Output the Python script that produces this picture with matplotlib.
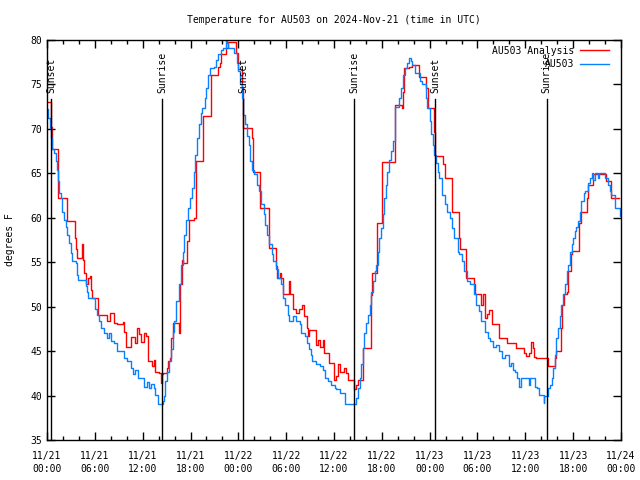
import matplotlib
matplotlib.use("Agg")
import matplotlib.pyplot as plt
from matplotlib.ticker import MultipleLocator

plt.rcParams['font.family'] = ['DejaVu Sans Mono']

# hours since 11/21 00:00 UTC, degrees F
analysis_t = [0.0, 0.54, 0.65, 1.42, 2.47, 3.51, 3.68, 3.8, 4.43, 4.52, 4.64, 4.85, 5.2, 5.35,
              5.48, 5.69, 6.44, 7.57, 7.86, 8.4, 8.8, 9.5, 9.66, 9.87, 10.5, 11.0, 11.33, 11.5,
              11.8, 12.2, 12.46, 12.67, 13.2, 13.4, 13.6, 14.05, 14.3, 14.45, 14.6, 15.0, 15.2,
              15.4, 15.6, 15.85, 16.5, 16.7, 16.9, 17.1, 17.6, 17.8, 18.4, 18.65, 19.6, 20.6,
              21.4, 21.7, 21.8, 22.5, 22.7, 23.7, 23.9, 24.5, 24.62, 25.7, 25.8, 26.7, 27.8,
              28.7, 28.9, 29.2, 29.4, 29.6, 30.3, 30.45, 30.8, 31.2, 31.6, 32.0, 32.2, 32.6,
              32.8, 32.9, 33.7, 34.0, 34.2, 34.6, 34.8, 35.4, 35.97, 36.2, 36.5, 36.7, 37.3,
              37.5, 37.7, 38.5, 38.8, 39.0, 39.7, 40.7, 40.8, 41.4, 42.0, 43.7, 44.5, 44.6,
              44.8, 45.4, 45.8, 46.6, 47.6, 47.8, 48.6, 48.7, 49.7, 49.9, 50.75, 50.85, 51.7,
              51.8, 52.6, 53.5, 53.7, 54.5, 54.7, 54.9, 55.2, 55.4, 55.8, 56.7, 57.7, 58.8,
              59.8, 60.1, 60.5, 60.7, 60.9, 61.1, 61.4, 62.5, 62.8, 63.7, 63.9, 64.5, 64.6,
              64.8, 65.2, 65.4, 65.7, 65.9, 66.7, 66.97, 67.7, 67.8, 68.5, 70.1, 70.8, 71.7]
analysis_v = [73.0, 70.2, 67.7, 62.2, 59.6, 57.7, 56.5, 55.5, 57.0, 55.3, 53.8, 52.5, 53.2, 53.4,
              51.9, 51.0, 49.1, 48.4, 49.3, 48.2, 48.0, 48.3, 47.2, 45.5, 46.6, 45.9, 47.6, 46.9,
              46.0, 47.0, 46.7, 43.9, 43.3, 44.0, 42.7, 42.5, 41.4, 42.4, 42.5, 43.1, 43.9,
              44.2, 46.5, 48.2, 47.0, 52.5, 55.3, 54.9, 57.4, 59.7, 60.0, 66.4, 71.5, 76.1,
              77.0, 77.4, 78.4, 79.1, 79.8, 78.5, 76.7, 74.6, 70.1, 69.0, 65.2, 61.1, 56.6,
              54.6, 53.2, 53.8, 53.2, 51.4, 52.9, 51.4, 49.7, 49.3, 49.7, 50.2, 48.9, 47.6,
              46.7, 47.4, 45.7, 46.3, 45.5, 46.3, 44.8, 43.7, 41.8, 42.2, 43.5, 42.7, 43.1,
              42.5, 41.8, 40.7, 41.2, 41.8, 45.4, 51.3, 53.8, 59.4, 66.3, 72.7, 72.3, 74.2,
              76.9, 77.0, 77.2, 75.8, 74.6, 72.4, 69.7, 66.9, 66.0, 64.5, 62.8, 60.7, 57.7,
              56.5, 53.2, 52.5, 51.4, 50.2, 51.4, 48.7, 49.2, 49.6, 48.0, 46.5, 45.9, 45.3,
              44.8, 44.4, 44.8, 46.0, 45.3, 44.3, 44.2, 44.2, 43.3, 44.2, 45.0, 47.6, 50.2,
              51.4, 51.7, 54.0, 55.9, 56.3, 59.4, 60.7, 62.2, 63.7, 64.9, 64.1, 62.2, 62.2]

obs_t = [0.0, 0.13, 0.38, 0.54, 0.67, 0.88, 1.09, 1.21, 1.38, 1.5, 1.71, 1.92, 2.13, 2.34, 2.55,
         2.76, 2.97, 3.18, 3.6, 3.8, 3.93, 4.85, 5.06, 5.19, 5.98, 6.3, 6.52, 6.82, 7.15, 7.57,
         7.75, 7.99, 8.4, 8.74, 9.66, 10.08, 10.5, 10.83, 11.1, 11.46, 12.2, 12.6, 12.8, 13.1,
         13.4, 13.6, 13.9, 14.5, 14.7, 14.8, 15.1, 15.35, 15.56, 15.77, 15.9, 16.2, 16.5,
         16.8, 17.0, 17.2, 17.4, 17.7, 17.9, 18.15, 18.4, 18.6, 18.8, 19.1, 19.3, 19.5, 19.8,
         20.0, 20.24, 20.5, 20.9, 21.2, 21.5, 21.8, 22.1, 22.4, 22.6, 22.75, 23.5, 23.8, 24.0,
         24.2, 24.4, 24.6, 24.8, 25.05, 25.3, 25.5, 25.7, 26.0, 26.3, 26.6, 26.9, 27.2, 27.4,
         27.6, 27.9, 28.2, 28.4, 28.7, 29.0, 29.3, 29.6, 29.9, 30.2, 30.4, 30.8, 31.2, 31.7,
         31.9, 32.3, 32.6, 32.9, 33.1, 33.3, 33.8, 34.2, 34.6, 34.9, 35.2, 35.6, 36.1, 36.3,
         36.7, 37.4, 38.8, 39.0, 39.2, 39.4, 39.6, 39.8, 40.0, 40.3, 40.5, 40.7, 40.9, 41.1,
         41.3, 41.5, 41.7, 41.9, 42.1, 42.3, 42.5, 42.7, 42.96, 43.2, 43.4, 43.6, 43.7, 44.2,
         44.4, 44.6, 44.9, 45.2, 45.4, 45.6, 45.8, 46.2, 46.85, 47.1, 47.5, 47.7, 48.0, 48.2,
         48.4, 48.6, 48.8, 49.1, 49.2, 49.6, 49.9, 50.2, 50.5, 50.8, 51.1, 51.5, 51.7, 52.1,
         52.3, 52.7, 53.1, 53.5, 53.8, 54.2, 54.5, 54.9, 55.3, 55.6, 56.0, 56.3, 56.7, 57.1,
         57.5, 57.9, 58.2, 58.5, 58.7, 59.0, 59.2, 59.4, 60.4, 60.6, 61.2, 61.5, 61.7, 62.3,
         62.4, 62.9, 63.1, 63.3, 63.5, 63.7, 63.9, 64.1, 64.3, 64.5, 64.75, 64.96, 65.2, 65.4,
         65.6, 65.8, 66.0, 66.2, 66.4, 66.6, 66.8, 67.0, 67.3, 67.5, 67.8, 68.1, 68.3, 68.5,
         68.8, 69.1, 69.3, 70.0, 70.4, 70.6, 70.8, 71.2, 71.9, 72.0]
obs_v = [72.2, 71.2, 70.1, 69.0, 67.7, 67.3, 66.4, 65.4, 64.1, 62.8, 62.2, 60.7, 59.8, 59.0, 58.1,
         57.2, 56.0, 55.1, 54.9, 53.6, 53.0, 52.3, 51.7, 51.0, 49.7, 49.1, 48.4, 47.6, 47.0, 46.5,
         47.0, 46.1, 45.9, 45.0, 44.2, 43.9, 43.1, 42.4, 42.9, 42.0, 41.0, 41.5, 40.9, 41.3,
         40.9, 40.1, 39.0, 39.4, 40.0, 41.6, 42.7, 43.9, 45.2, 47.2, 48.4, 50.6, 52.5,
         54.7, 56.2, 58.1, 59.7, 61.1, 62.2, 63.4, 65.2, 67.1, 69.0, 70.5, 71.8, 72.4, 73.5,
         74.6, 76.1, 76.9, 77.0, 77.8, 78.4, 78.9, 79.1, 80.0, 79.7, 79.1, 78.5, 77.4, 76.5,
         75.0, 73.5, 71.6, 70.5, 69.2, 68.2, 66.4, 65.4, 64.9, 63.7, 63.0, 61.5, 60.4, 59.2,
         58.1, 57.0, 55.9, 55.1, 54.2, 53.2, 52.5, 51.0, 50.2, 49.1, 48.4, 48.9, 48.4, 48.0,
         47.0, 46.7, 45.9, 45.2, 44.6, 43.9, 43.5, 43.3, 42.9, 42.0, 41.6, 41.2, 40.9, 40.7,
         40.3, 39.0, 39.7, 40.9, 42.0, 43.5, 45.4, 47.0, 48.2, 49.1, 50.2, 51.7, 52.9, 54.0,
         54.7, 56.2, 57.7, 58.9, 60.4, 62.2, 63.7, 65.2, 66.5, 67.5, 68.6, 69.5, 72.5, 73.5,
         74.6, 76.1, 76.9, 77.4, 78.0, 77.6, 77.2, 76.3, 75.4, 75.0, 73.5, 72.4, 70.9, 69.4,
         68.2, 67.1, 66.2, 65.2, 64.5, 62.6, 61.5, 60.7, 60.0, 58.9, 57.7, 56.2, 55.9, 55.1,
         54.0, 52.9, 52.5, 51.4, 50.2, 49.5, 48.4, 47.2, 46.5, 46.1, 45.5, 45.7, 45.0, 44.2,
         44.6, 43.3, 43.7, 42.9, 42.7, 42.0, 41.0, 42.0, 41.2, 42.0, 41.0, 40.9, 40.1, 39.2,
         39.9, 40.9, 41.2, 42.0, 43.1, 44.6, 46.5, 47.6, 48.9, 50.2, 51.4, 52.5, 54.0, 54.7,
         56.2, 57.0, 57.7, 58.5, 59.0, 59.6, 60.7, 61.9, 62.8, 63.0, 63.9, 64.5, 65.0, 64.3,
         65.0, 64.5, 65.0, 64.5, 63.7, 63.0, 62.6, 61.1, 60.2, 60.2]

sun_t = [0.54, 14.47, 24.63, 38.56, 48.72, 62.69]
sun_labels = ["Sunset", "Sunrise", "Sunset", "Sunrise", "Sunset", "Sunrise"]

tick_hours = list(range(0, 73, 6))
tick_labels = ["11/21\n00:00", "11/21\n06:00", "11/21\n12:00", "11/21\n18:00",
               "11/22\n00:00", "11/22\n06:00", "11/22\n12:00", "11/22\n18:00",
               "11/23\n00:00", "11/23\n06:00", "11/23\n12:00", "11/23\n18:00",
               "11/24\n00:00"]

fig = plt.figure(figsize=(6.4, 4.8), dpi=100)
ax = fig.add_axes([47 / 640, 40 / 480, 574 / 640, 400 / 480])

ax.plot(analysis_t, analysis_v, color='#ff0000', lw=1.0, drawstyle='steps-post', label="AU503 Analysis")
ax.plot(obs_t, obs_v, color='#0a80ff', lw=1.0, drawstyle='steps-post', label="AU503")

# sunrise / sunset markers
for t, lab in zip(sun_t, sun_labels):
    ax.axvline(t, ymin=0, ymax=0.852, color='black', lw=1.0)
    ax.text(t, 74.0, lab, rotation=90, ha='center', va='bottom', fontsize=7)

ax.set_xlim(0, 72)
ax.set_ylim(35, 80)
ax.set_xticks(tick_hours)
ax.set_xticklabels(tick_labels, linespacing=1.4)
ax.xaxis.set_minor_locator(MultipleLocator(2))
ax.yaxis.set_major_locator(MultipleLocator(5))
ax.tick_params(which='both', direction='in', top=True, right=True, labelsize=7, width=1)
ax.tick_params(which='major', length=6)
ax.tick_params(which='minor', length=3)
ax.tick_params(axis='x', pad=8)
for s in ax.spines.values():
    s.set_linewidth(1.0)

ax.set_ylabel("degrees F", fontsize=7)
ax.yaxis.set_label_coords(-0.056, 0.5)
ax.set_title("Temperature for AU503 on 2024-Nov-21 (time in UTC)", fontsize=7, pad=12)
ax.legend(loc='upper right', bbox_to_anchor=(0.99, 1.0), markerfirst=False, frameon=False,
          fontsize=7, handlelength=3.0, handletextpad=0.6, labelspacing=0.35, borderaxespad=0.2)

plt.savefig("out.png", dpi=100)
